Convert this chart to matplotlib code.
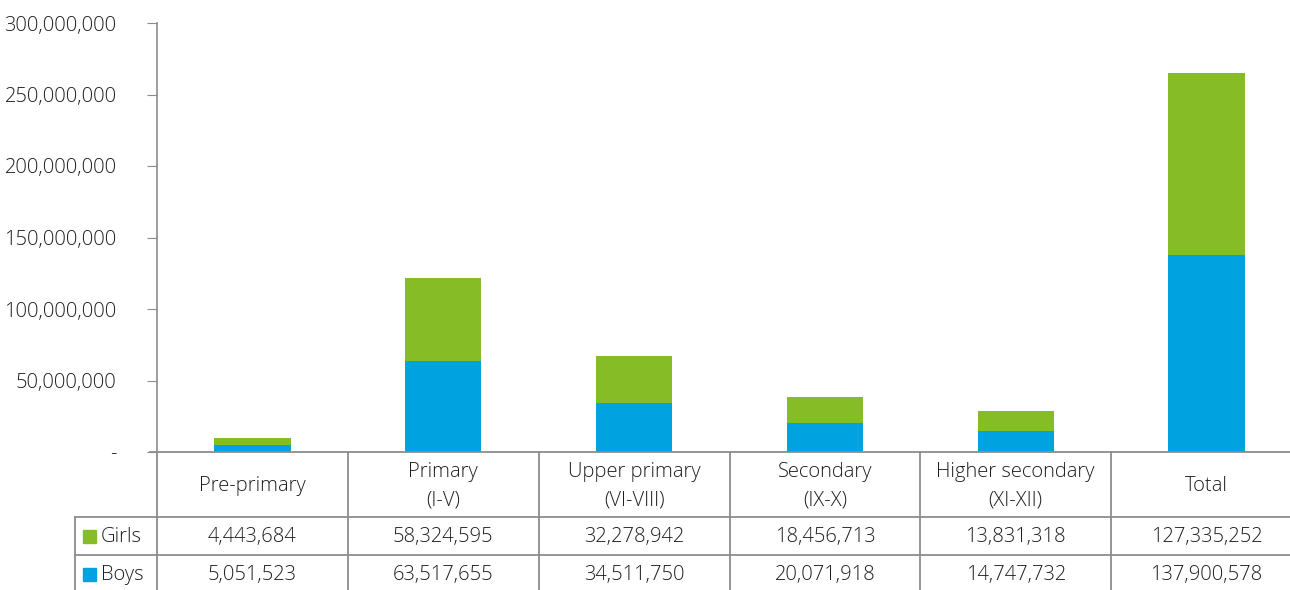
import matplotlib
matplotlib.use("Agg")
import matplotlib.pyplot as plt
from matplotlib.lines import Line2D
from matplotlib.patches import Rectangle
from matplotlib.ticker import FuncFormatter

categories = ["Pre-primary", "Primary\n(I-V)", "Upper primary\n(VI-VIII)",
              "Secondary\n(IX-X)", "Higher secondary\n(XI-XII)", "Total"]
boys = [5051523, 63517655, 34511750, 20071918, 14747732, 137900578]
girls = [4443684, 58324595, 32278942, 18456713, 13831318, 127335252]
yticks = [0, 50000000, 100000000, 150000000, 200000000, 250000000, 300000000]

GREEN = "#86BC25"
BLUE = "#00A3E0"
LINE = "#8c8c8c"
TXT = "#1e1e1e"
FS = 14.5

plt.rcParams['font.family'] = ['Open Sans', 'DejaVu Sans']
plt.rcParams['font.weight'] = 'light'

W, H = 1290, 590
fig = plt.figure(figsize=(W / 100, H / 100), dpi=100)

def fx(px):
    return px / W

def fy(py):
    return 1 - py / H

left, right, top, bottom = 157, 1302, 23, 452
ax = fig.add_axes([fx(left), fy(bottom), fx(right) - fx(left), fy(top) - fy(bottom)])

x = list(range(len(categories)))
ax.bar(x, boys, width=0.4, color=BLUE, zorder=2)
ax.bar(x, girls, width=0.4, bottom=boys, color=GREEN, zorder=2)

ax.set_xlim(-0.5, len(categories) - 0.5)
ax.set_ylim(0, 300000000)
ax.set_yticks(yticks)
ax.yaxis.set_major_formatter(FuncFormatter(lambda v, p: "-" if v == 0 else f"{int(v):,}"))
ax.tick_params(axis='y', length=7, color=LINE, labelsize=FS, labelcolor=TXT, pad=22)
ax.set_xticks([])
for s in ["top", "right", "bottom"]:
    ax.spines[s].set_visible(False)
ax.spines["left"].set_color(LINE)
ax.spines["left"].set_linewidth(1.2)

# Table
def fline(x0, y0, x1, y1):
    fig.add_artist(Line2D([fx(x0), fx(x1)], [fy(y0), fy(y1)], color=LINE, lw=1.3))

row_top, row_girls, row_boys, row_end = 452, 517, 555, 596
lab_left = 75
fline(150, row_top, 1302, row_top)
fline(lab_left, row_girls, 1302, row_girls)
fline(lab_left, row_boys, 1302, row_boys)
fline(lab_left, row_girls, lab_left, row_end)
colw = (right - left) / len(categories)
for i in range(len(categories) + 1):
    xp = left + i * colw
    fline(xp, row_top, xp, row_end)

for i, cat in enumerate(categories):
    cx = left + (i + 0.5) * colw
    fig.text(fx(cx), fy(486), cat, ha='center', va='center',
             fontsize=FS, color=TXT, linespacing=1.6)
    fig.text(fx(cx), fy(537), f"{girls[i]:,}", ha='center', va='center',
             fontsize=FS, color=TXT)
    fig.text(fx(cx), fy(575), f"{boys[i]:,}", ha='center', va='center',
             fontsize=FS, color=TXT)

for name, col, yc in [("Girls", GREEN, 536), ("Boys", BLUE, 574)]:
    fig.add_artist(Rectangle((fx(83), fy(yc + 6.5)), fx(13), 13 / H, color=col,
                             transform=fig.transFigure))
    fig.text(fx(101), fy(yc + 1), name, ha='left', va='center', fontsize=FS, color=TXT)

fig.savefig("out.png", dpi=100)
